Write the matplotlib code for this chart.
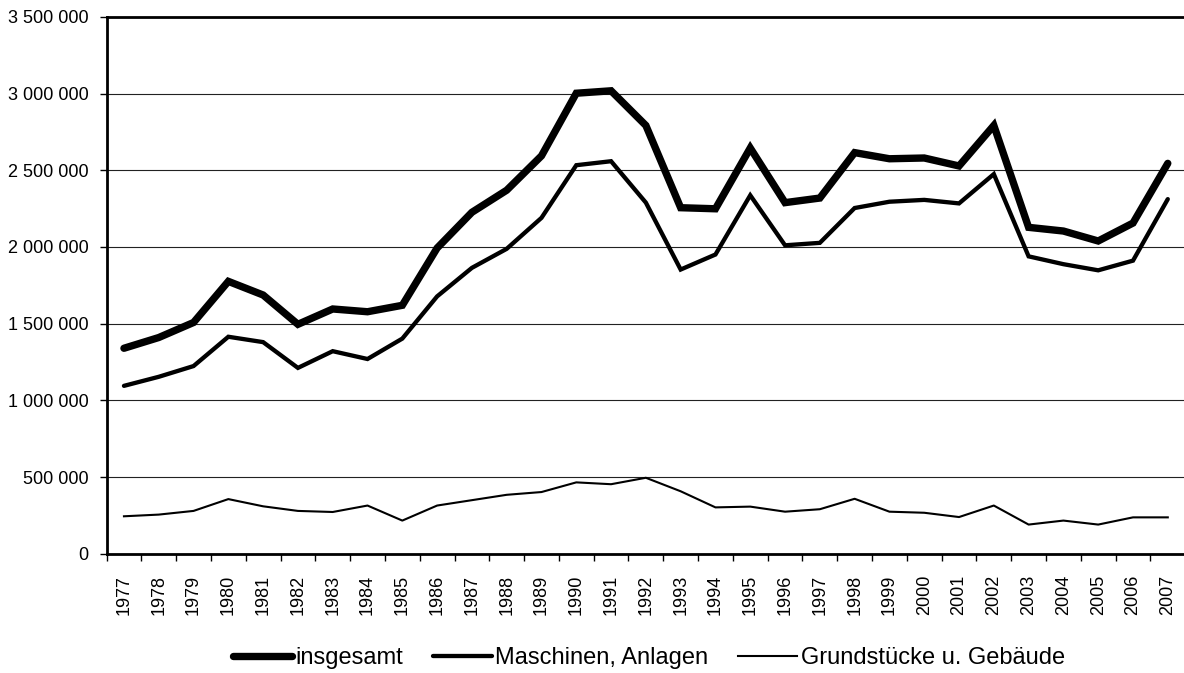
import matplotlib.pyplot as plt
from matplotlib.ticker import FuncFormatter, MultipleLocator
import numpy as np

plt.rcParams['font.family'] = ['Liberation Sans', 'DejaVu Sans']

jahre = list(range(1977, 2008))

insgesamt = [1340000, 1410000, 1508000, 1776000, 1687000, 1496000, 1596000, 1578000,
             1620000, 1993000, 2226000, 2370000, 2594000, 3002000, 3018000, 2792000,
             2256000, 2249000, 2645000, 2289000, 2319000, 2615000, 2575000, 2580000,
             2528000, 2792000, 2128000, 2104000, 2039000, 2156000, 2545000]

maschinen = [1095000, 1154000, 1224000, 1415000, 1380000, 1212000, 1321000, 1270000,
             1403000, 1678000, 1864000, 1988000, 2190000, 2533000, 2559000, 2289000,
             1853000, 1951000, 2337000, 2011000, 2027000, 2254000, 2295000, 2307000,
             2284000, 2475000, 1939000, 1888000, 1848000, 1911000, 2312000]

grundstuecke = [245000, 256000, 280000, 357000, 310000, 280000, 273000, 315000,
                217000, 315000, 350000, 385000, 403000, 466000, 454000, 496000,
                408000, 303000, 308000, 275000, 291000, 359000, 275000, 268000,
                240000, 315000, 191000, 217000, 191000, 238000, 238000]


def tausender(v, pos):
    return f"{int(v):,}".replace(",", " ")


fig = plt.figure(figsize=(11.84, 6.73), dpi=100)
ax = fig.add_axes([0.09, 0.177, 0.911, 0.798])

x = np.arange(len(jahre))
ax.plot(x, insgesamt, color='black', lw=5.3, solid_joinstyle='miter',
        solid_capstyle='round', label='insgesamt')
ax.plot(x, maschinen, color='black', lw=3.1, solid_joinstyle='miter',
        solid_capstyle='round', label='Maschinen, Anlagen')
ax.plot(x, grundstuecke, color='black', lw=1.5, label='Grundstücke u. Gebäude')

ax.set_xlim(-0.5, len(jahre) - 0.5)
ax.set_ylim(0, 3500000)
ax.yaxis.set_major_locator(MultipleLocator(500000))
ax.yaxis.set_major_formatter(FuncFormatter(tausender))
ax.grid(axis='y', color='#222222', lw=0.8)
ax.set_axisbelow(True)

ax.set_xticks(x)
ax.set_xticklabels([str(j) for j in jahre], rotation=90, fontsize=13)
ax.set_xticks(np.arange(-0.5, len(jahre), 1), minor=True)
ax.tick_params(axis='x', which='major', length=0, pad=15)
ax.tick_params(axis='x', which='minor', length=5, width=1, direction='out')
ax.tick_params(axis='y', length=5, width=1, direction='out', labelsize=13, pad=8)

for s in ['left', 'bottom', 'top']:
    ax.spines[s].set_linewidth(2)
ax.spines['right'].set_visible(False)

fig.legend(loc='center', bbox_to_anchor=(0.548, 0.022), ncol=3, frameon=False,
           fontsize=17, handlelength=2.5, handletextpad=0.15, columnspacing=1.25)

fig.savefig('out.png', dpi=100)
